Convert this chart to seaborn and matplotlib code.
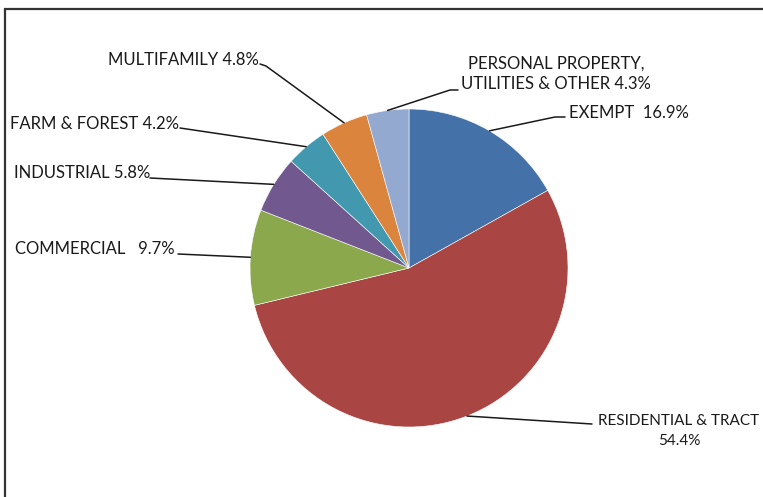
import numpy as np
import matplotlib
matplotlib.use("Agg")
import matplotlib.pyplot as plt
import seaborn as sns
from matplotlib.patches import Rectangle

# ---- data ----
categories = ["EXEMPT", "RESIDENTIAL & TRACT", "COMMERCIAL", "INDUSTRIAL",
              "FARM & FOREST", "MULTIFAMILY", "PERSONAL PROPERTY,\nUTILITIES & OTHER"]
shares = [16.9, 54.4, 9.7, 5.8, 4.2, 4.8, 4.3]
label_texts = ["EXEMPT  16.9%", "RESIDENTIAL & TRACT\n54.4%", "COMMERCIAL   9.7%",
               "INDUSTRIAL 5.8%", "FARM & FOREST 4.2%", "MULTIFAMILY 4.8%",
               "PERSONAL PROPERTY,\nUTILITIES & OTHER 4.3%"]
colors = ["#4472A8", "#A94643", "#8BA84C", "#71598F", "#4298AF", "#DB843D", "#93A9CF"]

sns.set_theme(style="white")
plt.rcParams['font.family'] = ['Lato', 'DejaVu Sans']

W, H = 763, 497
fig = plt.figure(figsize=(W / 100, H / 100), dpi=100)
ax = fig.add_axes([0, 0, 1, 1])

def Y(py):
    return H - py

cx, cy, R = 409, Y(268), 159
wedges, _ = ax.pie(shares, colors=colors, startangle=90, counterclock=False,
                   center=(cx, cy), radius=R,
                   wedgeprops=dict(linewidth=0.4, edgecolor="white"))
ax.set_xlim(0, W)
ax.set_ylim(0, H)
ax.set_aspect("equal")
ax.axis("off")

# label placement (pixel coords): (text x, text y, ha, size, linespacing, leader start, elbow)
layout = [
    (569, 113, "left",   12, 1.3,  (565, 117), (555, 117)),   # exempt
    (679, 431, "center", 11, 1.55, (592, 424), None),         # residential
    (15, 249, "left",    12, 1.3,  (178, 254), None),         # commercial
    (14, 173, "left",    12, 1.3,  (150, 178), None),         # industrial
    (10, 124, "left",    12, 1.3,  (180, 128), None),         # farm
    (108, 60, "left",    12, 1.3,  (260, 64), (266, 66)),     # multifamily
    (556, 74, "center",  12, 1.29, (458, 90), (450, 90)),     # personal
]
tc = "#1a1a1a"
for w, txt, (tx, ty, ha, fs, ls, p0, p1) in zip(wedges, label_texts, layout):
    ax.text(tx, Y(ty), txt, ha=ha, va="center", fontsize=fs, color=tc,
            linespacing=ls)
    mid = np.deg2rad((w.theta1 + w.theta2) / 2)
    ax_, ay_ = cx + R * np.cos(mid), cy + R * np.sin(mid)
    xs = [p0[0]] + ([p1[0]] if p1 else []) + [ax_]
    ys = [Y(p0[1])] + ([Y(p1[1])] if p1 else []) + [ay_]
    ax.plot(xs, ys, color="#1a1a1a", lw=1.1)

# outer frame (extends beyond right/bottom edge)
fig.patches.append(Rectangle((5 / W, -0.05), 1.2, (H - 9) / H + 0.05,
                             transform=fig.transFigure, fill=False,
                             edgecolor="#333333", lw=1.6))

fig.savefig("out.png", dpi=100)
